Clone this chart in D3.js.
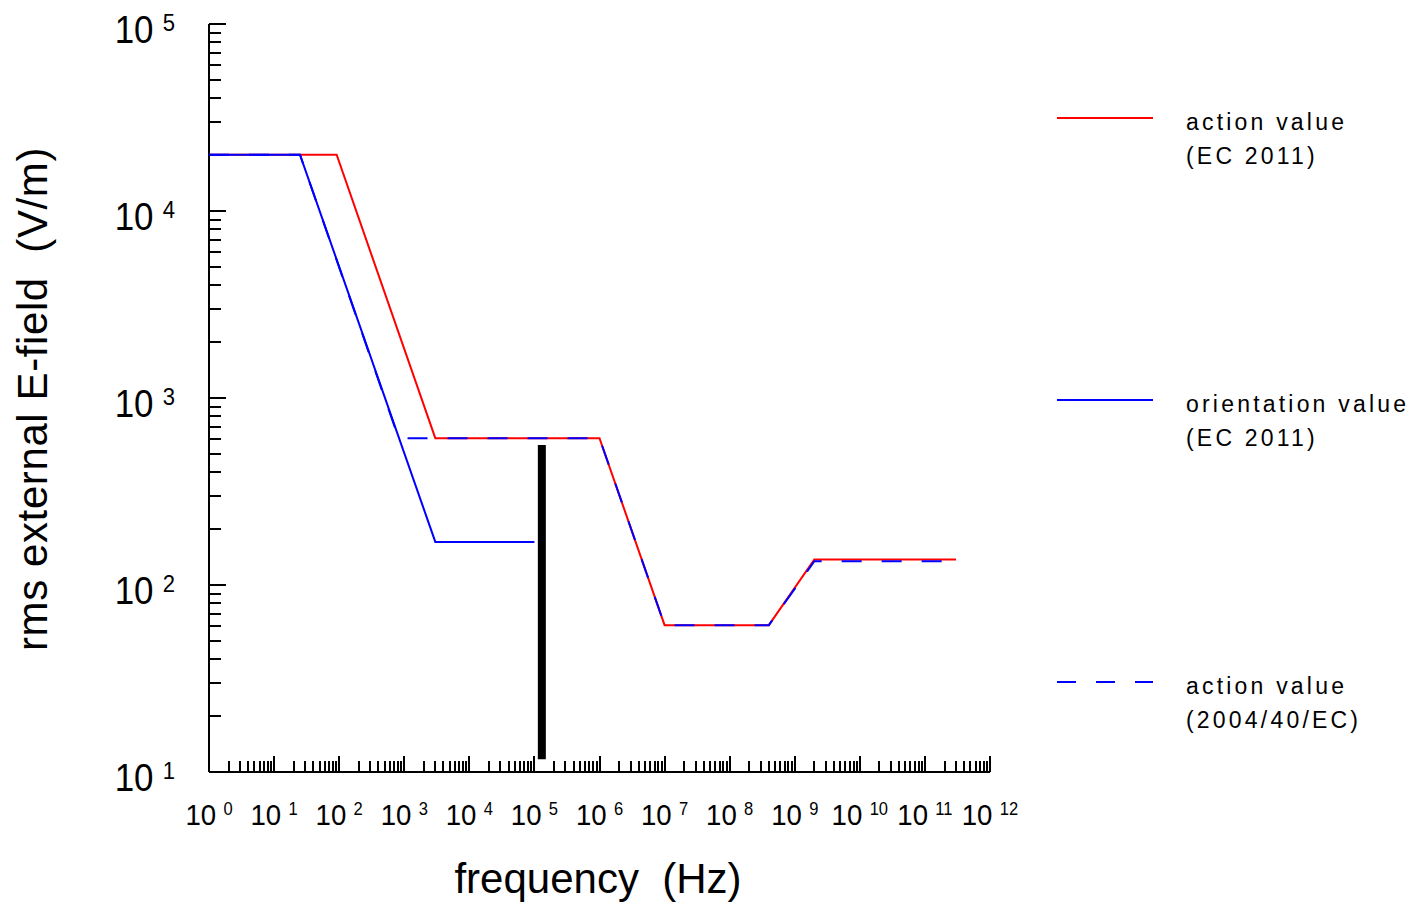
<!DOCTYPE html>
<html>
<head>
<meta charset="utf-8">
<script src="https://cdn.jsdelivr.net/npm/d3@7"></script>
<style>
  html, body { margin: 0; padding: 0; background: #fff; }
  svg { display: block; }
  text { font-family: "Liberation Sans", Arial, Helvetica, sans-serif; fill: #000; }
</style>
</head>
<body>
<svg id="chart" width="1418" height="904"></svg>
<script>
// ---- data ----
const xTickExponents = [0, 1, 2, 3, 4, 5, 6, 7, 8, 9, 10, 11, 12];
const yTickExponents = [1, 2, 3, 4, 5];

// action value (EC 2011)
const redFreq = [1, 91.5, 3000, 1e6, 1e7, 4e8, 2e9, 3e11];
const redE    = [2e4, 2e4, 610, 610, 61, 61, 137, 137];

// orientation value (EC 2011)
const blueFreq = [1, 25, 3000, 1e5];
const blueE    = [2e4, 2e4, 170, 170];

// action value (2004/40/EC)
const dashFreq = [1, 25, 820, 1e6, 1e7, 4e8, 2e9, 3e11];
const dashE    = [2e4, 2e4, 610, 610, 61, 61, 134, 134];

// black vertical marker
const markerFreq = 1.3e5;
const markerE = [11.7, 560];

const legendLabels = [
  ["action value", "(EC 2011)"],
  ["orientation value", "(EC 2011)"],
  ["action value", "(2004/40/EC)"]
];

// ---- chart ----
const svg = d3.select("#chart");
const x = d3.scaleLog().domain([1, 1e12]).range([209, 990]);
const y = d3.scaleLog().domain([10, 1e5]).range([772, 24]);

const toPts = (fs, es) => fs.map((f, i) => [f, es[i]]);
const line = d3.line().x(d => x(d[0])).y(d => y(d[1]));

// minor ticks
const xMinor = [];
for (let e = 0; e < 12; e++) for (let k = 2; k <= 9; k++) xMinor.push(k * Math.pow(10, e));
const yMinor = [];
for (let e = 1; e < 5; e++) for (let k = 2; k <= 9; k++) yMinor.push(k * Math.pow(10, e));
const xMajor = xTickExponents.map(e => Math.pow(10, e));
const yMajor = yTickExponents.map(e => Math.pow(10, e));

const axes = svg.append("g").attr("stroke", "#000").attr("stroke-width", 1.3).attr("shape-rendering", "crispEdges");
axes.append("line").attr("x1", x(1)).attr("x2", x(1e12)).attr("y1", y(10)).attr("y2", y(10));
axes.append("line").attr("x1", x(1)).attr("x2", x(1)).attr("y1", y(10)).attr("y2", y(1e5));
axes.selectAll(".xmin").data(xMinor).join("line")
  .attr("x1", d => Math.round(x(d))).attr("x2", d => Math.round(x(d)))
  .attr("y1", y(10)).attr("y2", y(10) - 11);
axes.selectAll(".xmaj").data(xMajor.slice(1)).join("line")
  .attr("x1", d => Math.round(x(d))).attr("x2", d => Math.round(x(d)))
  .attr("y1", y(10)).attr("y2", y(10) - 16);
axes.selectAll(".ymin").data(yMinor).join("line")
  .attr("x1", x(1)).attr("x2", x(1) + 12)
  .attr("y1", d => Math.round(y(d))).attr("y2", d => Math.round(y(d)));
axes.selectAll(".ymaj").data(yMajor).join("line")
  .attr("x1", x(1)).attr("x2", x(1) + 17)
  .attr("y1", d => Math.round(y(d))).attr("y2", d => Math.round(y(d)));

// x tick labels
const xl = svg.append("g").selectAll("text").data(xTickExponents).join("text")
  .attr("transform", e => `translate(${x(Math.pow(10, e))},825) scale(0.92,1)`)
  .attr("text-anchor", "middle")
  .style("font-size", "30px");
xl.append("tspan").text("10");
xl.append("tspan").attr("dx", 8).attr("dy", -10).style("font-size", "18px").text(e => e);

// y tick labels
const yl = svg.append("g").selectAll("text").data(yTickExponents).join("text")
  .attr("transform", e => `translate(175,${y(Math.pow(10, e)) + 19}) scale(0.92,1)`)
  .attr("text-anchor", "end")
  .style("font-size", "38px");
yl.append("tspan").text("10");
yl.append("tspan").attr("dx", 10).attr("dy", -12).style("font-size", "24px").text(e => e);

// axis titles
svg.append("text").attr("x", 598).attr("y", 893).attr("text-anchor", "middle")
  .style("font-size", "42px").style("white-space", "pre").text("frequency  (Hz)");
svg.append("text").attr("transform", "translate(47,399) rotate(-90)").attr("text-anchor", "middle")
  .style("font-size", "42px").style("letter-spacing", "0.6px").style("white-space", "pre")
  .text("rms external E-field  (V/m)");

// data lines
svg.append("path").datum(toPts(redFreq, redE)).attr("d", line)
  .attr("fill", "none").attr("stroke", "#ff0000").attr("stroke-width", 2);
svg.append("path").datum(toPts(dashFreq, dashE)).attr("d", line)
  .attr("fill", "none").attr("stroke", "#0000ff").attr("stroke-width", 2).attr("stroke-dasharray", "20,20");
svg.append("path").datum(toPts(blueFreq, blueE)).attr("d", line)
  .attr("fill", "none").attr("stroke", "#0000ff").attr("stroke-width", 2);

// black marker
svg.append("line")
  .attr("x1", x(markerFreq)).attr("x2", x(markerFreq))
  .attr("y1", y(markerE[0])).attr("y2", y(markerE[1]))
  .attr("stroke", "#000").attr("stroke-width", 8);

// legend
const legendY = [118, 400, 682];
const legendColors = ["#ff0000", "#0000ff", "#0000ff"];
const legendDash = [null, null, "19,20"];
const lg = svg.append("g").selectAll("g").data(legendLabels).join("g")
  .attr("transform", (d, i) => `translate(0,${legendY[i]})`);
lg.append("line").attr("x1", 1057).attr("x2", 1153).attr("y1", 0).attr("y2", 0)
  .attr("stroke", (d, i) => legendColors[i]).attr("stroke-width", 2)
  .attr("stroke-dasharray", (d, i) => legendDash[i]);
lg.append("text").attr("x", 1186).attr("y", 12)
  .style("font-size", "23px").style("letter-spacing", "3.2px").text(d => d[0]);
lg.append("text").attr("x", 1186).attr("y", 46)
  .style("font-size", "23px").style("letter-spacing", "3.2px").text(d => d[1]);
</script>
</body>
</html>
